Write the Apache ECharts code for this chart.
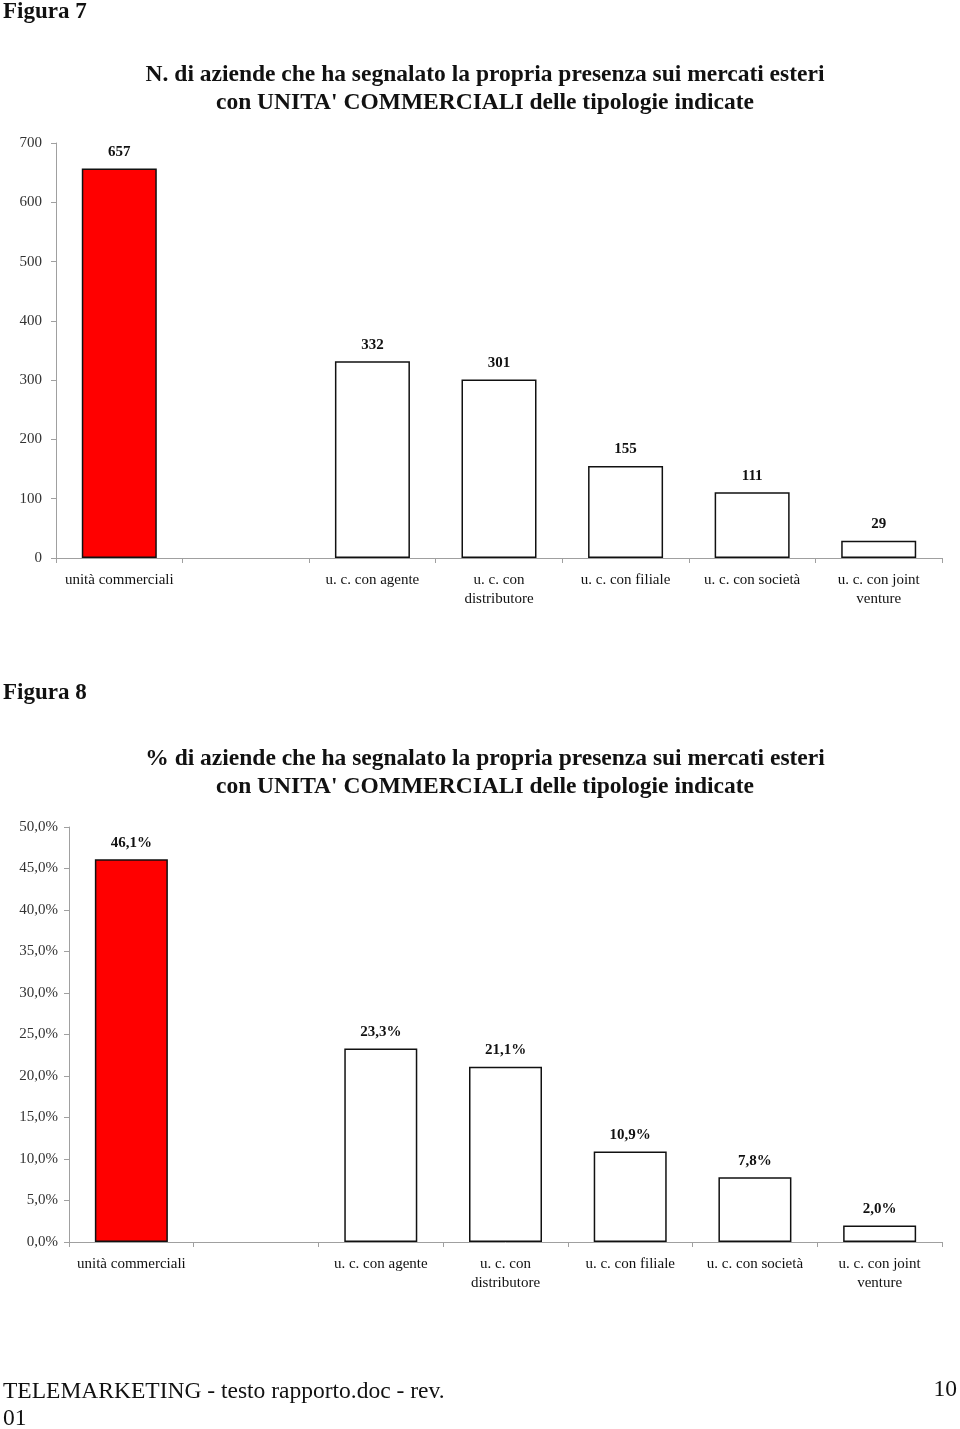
<!DOCTYPE html>
<html>
<head>
<meta charset="utf-8">
<script src="https://cdn.jsdelivr.net/npm/echarts@6/dist/echarts.min.js"></script>
<style>
html,body{margin:0;padding:0;background:#fff;}
#c{width:960px;height:1429px;}
</style>
</head>
<body>
<div id="c"></div>
<script>
const categories = ['unità commerciali', '', 'u. c. con agente', 'u. c. con\ndistributore', 'u. c. con filiale', 'u. c. con società', 'u. c. con joint\nventure'];
const counts = [657, '-', 332, 301, 155, 111, 29];
const percents = [46.1, '-', 23.3, 21.1, 10.9, 7.8, 2.0];
const countTicks = { min: 0, max: 700, interval: 100 };
const pctTicks = { min: 0, max: 50, interval: 5 };
const title1 = "N. di aziende che ha segnalato la propria presenza sui mercati esteri\ncon UNITA' COMMERCIALI delle tipologie indicate";
const title2 = "% di aziende che ha segnalato la propria presenza sui mercati esteri\ncon UNITA' COMMERCIALI delle tipologie indicate";

const FONT = '"Liberation Serif", "DejaVu Serif", serif';
function fmtPct(v, d) { return v.toFixed(d).replace('.', ',') + '%'; }
function styled(vals) {
  return vals.map((v, i) => v === '-' ? '-' : {
    value: v,
    itemStyle: { color: i === 0 ? '#ff0000' : '#ffffff', borderColor: '#111', borderWidth: 1.5 }
  });
}
const xAxisBase = {
  type: 'category',
  data: categories,
  axisLine: { lineStyle: { color: '#a0a0a0', width: 1 } },
  axisTick: { show: true, interval: 0, length: 5, lineStyle: { color: '#a0a0a0' } },
  axisLabel: { interval: 0, color: '#111', fontFamily: FONT, fontSize: 15, lineHeight: 19, margin: 13 }
};
const yAxisBase = {
  type: 'value',
  axisLine: { show: true, lineStyle: { color: '#a0a0a0', width: 1 } },
  axisTick: { show: true, length: 5, lineStyle: { color: '#a0a0a0' } },
  splitLine: { show: false },
  axisLabel: { color: '#333', fontFamily: FONT, fontSize: 15 }
};
const chart = echarts.init(document.getElementById('c'), null, { renderer: 'canvas' });
chart.setOption({
  animation: false,
  backgroundColor: '#fff',
  title: [
    { text: title1, left: 480, top: 56, textAlign: 'center',
      textStyle: { fontFamily: FONT, fontSize: 23.5, fontWeight: 'bold', color: '#111', lineHeight: 28 } },
    { text: title2, left: 480, top: 740, textAlign: 'center',
      textStyle: { fontFamily: FONT, fontSize: 23.5, fontWeight: 'bold', color: '#111', lineHeight: 28 } }
  ],
  graphic: [
    { type: 'text', left: 3, top: 1, style: { text: 'Figura 7', font: 'bold 23px ' + FONT, fill: '#111' } },
    { type: 'text', left: 3, top: 682, style: { text: 'Figura 8', font: 'bold 23px ' + FONT, fill: '#111' } },
    { type: 'text', left: 3, top: 1378, style: { text: 'TELEMARKETING - testo rapporto.doc - rev.\n01', font: '23.5px ' + FONT, fill: '#111', lineHeight: 27 } },
    { type: 'text', right: 3, top: 1378, style: { text: '10', font: '23.5px ' + FONT, fill: '#111' } }
  ],
  grid: [
    { left: 56, right: 18, top: 143, height: 415 },
    { left: 69, right: 18, top: 827, height: 415 }
  ],
  xAxis: [
    Object.assign({ gridIndex: 0 }, xAxisBase),
    Object.assign({ gridIndex: 1 }, xAxisBase)
  ],
  yAxis: [
    Object.assign({ gridIndex: 0 }, yAxisBase, countTicks, { axisLabel: Object.assign({}, yAxisBase.axisLabel, { margin: 14 }) }),
    Object.assign({ gridIndex: 1 }, yAxisBase, pctTicks, { axisLabel: Object.assign({}, yAxisBase.axisLabel, { margin: 11, formatter: v => fmtPct(v, 1) }) })
  ],
  series: [
    { type: 'bar', xAxisIndex: 0, yAxisIndex: 0, data: styled(counts), barWidth: 75,
      label: { show: true, position: 'top', distance: 9, fontFamily: FONT, fontSize: 15, fontWeight: 'bold', color: '#111' } },
    { type: 'bar', xAxisIndex: 1, yAxisIndex: 1, data: styled(percents), barWidth: 73,
      label: { show: true, position: 'top', distance: 9, fontFamily: FONT, fontSize: 15, fontWeight: 'bold', color: '#111',
        formatter: p => fmtPct(p.value, 1) } }
  ]
});
</script>
</body>
</html>
